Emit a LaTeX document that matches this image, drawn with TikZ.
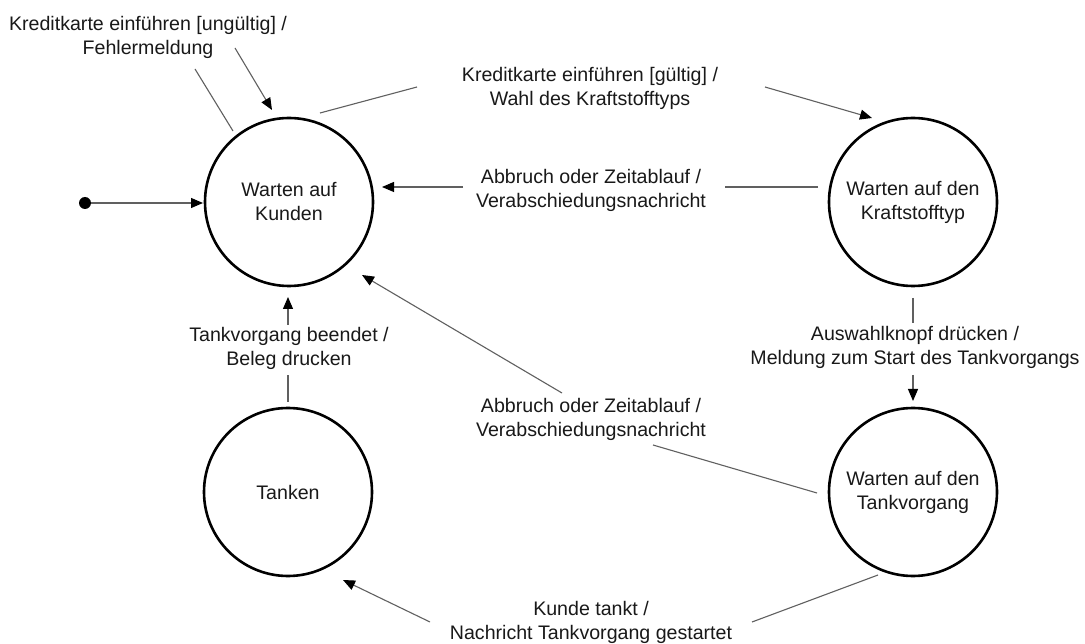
\documentclass[tikz,border=0pt]{standalone}
\usepackage{fontspec}
\setmainfont{Liberation Sans}
\usetikzlibrary{arrows.meta}
\definecolor{connc}{RGB}{96,96,96}
\definecolor{txtc}{RGB}{25,25,25}
\begin{document}
\begin{tikzpicture}[x=1pt,y=-1pt,
  state/.style={circle,draw=black,line width=2.6pt,minimum size=168pt,inner sep=0pt,align=center,
    text=txtc,font=\fontsize{19.6}{24}\selectfont},
  lbl/.style={align=center,inner sep=0pt,text=txtc,font=\fontsize{19.6}{24}\selectfont},
  conn/.style={draw=connc,line width=1.1pt},
  arr/.style={conn,-{Triangle[length=12pt,width=10pt,color=black,fill=black]}},
  initdot/.style={circle,fill=black,inner sep=0pt,minimum size=12pt}]
\useasboundingbox[fill=white] (0,0) rectangle (1085,644);

% states
\node[state] (K) at (289,202) {Warten auf\\Kunden};
\node[state] (F) at (913,202) {Warten auf den\\Kraftstofftyp};
\node[state] (T) at (288,492) {Tanken};
\node[state] (V) at (913,492) {Warten auf den\\Tankvorgang};
\node[initdot] (init) at (85,203) {};

% labels
\node[lbl] (L1) at (148,37) {Kreditkarte einführen [ungültig] /\\Fehlermeldung};
\node[lbl] (L2) at (590,88) {Kreditkarte einführen [gültig] /\\Wahl des Kraftstofftyps};
\node[lbl] (L3) at (591,190) {Abbruch oder Zeitablauf /\\Verabschiedungsnachricht};
\node[lbl] (L4) at (915,347) {Auswahlknopf drücken /\\Meldung zum Start des Tankvorgangs};
\node[lbl] (L5) at (591,419) {Abbruch oder Zeitablauf /\\Verabschiedungsnachricht};
\node[lbl] (L6) at (289,348) {Tankvorgang beendet /\\Beleg drucken};
\node[lbl] (L7) at (591,622) {Kunde tankt /\\Nachricht Tankvorgang gestartet};

% connector end points
\coordinate (k0) at (203,203);
\coordinate (c1a) at (233,131); \coordinate (c1b) at (195,69);
\coordinate (c1c) at (235,48);  \coordinate (c1d) at (272,110);
\coordinate (c2a) at (320,113); \coordinate (c2b) at (417,87);
\coordinate (c2c) at (765,87);  \coordinate (c2d) at (872,118);
\coordinate (c3a) at (818,187); \coordinate (c3b) at (725,187);
\coordinate (c3c) at (463,187); \coordinate (c3d) at (382,187);
\coordinate (c4a) at (913,298); \coordinate (c4b) at (913,323);
\coordinate (c4c) at (913,375); \coordinate (c4d) at (913,401);
\coordinate (c5a) at (817,493); \coordinate (c5b) at (653,445);
\coordinate (c5c) at (562,393); \coordinate (c5d) at (362,275);
\coordinate (c6a) at (878,575); \coordinate (c6b) at (752,622);
\coordinate (c6c) at (430,622); \coordinate (c6d) at (343,580);
\coordinate (c7a) at (288,402); \coordinate (c7b) at (288,375);
\coordinate (c7c) at (288,325); \coordinate (c7d) at (288,297);

% connectors
\draw[arr] (init) -- (k0);
\draw[conn] (c1a) -- (c1b);
\draw[arr] (c1c) -- (c1d);
\draw[conn] (c2a) -- (c2b);
\draw[arr] (c2c) -- (c2d);
\draw[conn] (c3a) -- (c3b);
\draw[arr] (c3c) -- (c3d);
\draw[conn] (c4a) -- (c4b);
\draw[arr] (c4c) -- (c4d);
\draw[conn] (c5a) -- (c5b);
\draw[arr] (c5c) -- (c5d);
\draw[conn] (c6a) -- (c6b);
\draw[arr] (c6c) -- (c6d);
\draw[conn] (c7a) -- (c7b);
\draw[arr] (c7c) -- (c7d);
\end{tikzpicture}
\end{document}
